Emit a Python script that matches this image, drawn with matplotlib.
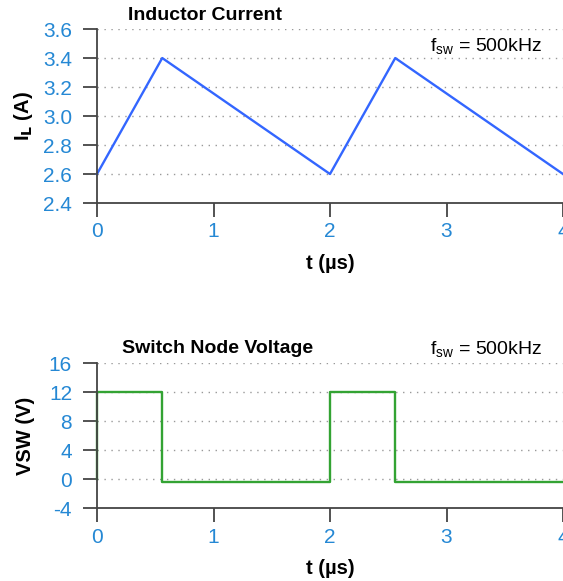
import matplotlib
matplotlib.use("Agg")
import matplotlib.pyplot as plt
import numpy as np

plt.rcParams["font.family"] = ["Liberation Sans", "DejaVu Sans"]

# données
t_il = [0, 0.56, 2.0, 2.56, 4.0]
il = [2.6, 3.4, 2.6, 3.4, 2.6]
il_ticks = [2.4, 2.6, 2.8, 3.0, 3.2, 3.4, 3.6]

t_vsw = [0, 0, 0.56, 0.56, 2.0, 2.0, 2.56, 2.56, 4.0]
vsw = [0, 12, 12, -0.3, -0.3, 12, 12, -0.3, -0.3]
vsw_ticks = [-4, 0, 4, 8, 12, 16]

t_ticks = [0, 1, 2, 3, 4]

tick_col = "#2588d4"
axis_col = "#444444"


def style_axes(ax, yticks, fmt):
    # axes façon R : ticks vers l'extérieur, grille pointillée
    for s in ["top", "right"]:
        ax.spines[s].set_visible(False)
    for s in ["left", "bottom"]:
        ax.spines[s].set_color(axis_col)
        ax.spines[s].set_linewidth(1.3)
    ax.set_xlim(0, 4)
    ax.set_ylim(yticks[0], yticks[-1])
    ax.set_xticks(t_ticks)
    ax.set_yticks(yticks)
    ax.set_yticklabels([fmt.format(v) for v in yticks])
    ax.tick_params(direction="out", length=10, width=1.3, color=axis_col,
                   labelcolor=tick_col, labelsize=15)
    ax.tick_params(axis="y", pad=8)
    ax.tick_params(axis="x", pad=4)
    for y in yticks[1:]:
        ax.axhline(y, color="#999999", lw=1, ls=(0, (1, 4)), zorder=0)
    ax.set_xlabel("t (\u00b5s)", fontsize=14.5, fontweight="bold", labelpad=9)


fig = plt.figure(figsize=(5.63, 5.81), dpi=100)

ax1 = fig.add_axes([0.1723, 0.6506, 0.8277, 0.2994])
ax1.plot(t_il, il, color="#3366ff", lw=1.7, clip_on=False)
style_axes(ax1, il_ticks, "{:.1f}")
ax1.set_ylabel("I$_\\mathbf{L}$ (A)", fontsize=14.5, fontweight="bold")
ax1.yaxis.set_label_coords(-0.133, 0.5)
fig.text(0.227, 0.973, "Inductor Current", fontsize=14, fontweight="bold", va="center")
ax1.text(0.955, 0.895, "f$_\\mathregular{sw}$ = 500kHz", transform=ax1.transAxes,
         fontsize=14, ha="right", va="center")

ax2 = fig.add_axes([0.1723, 0.1248, 0.8277, 0.2504])
ax2.plot(t_vsw, vsw, color="#33a333", lw=1.7, clip_on=False)
style_axes(ax2, vsw_ticks, "{:d}")
ax2.set_ylabel("VSW (V)", fontsize=14.5, fontweight="bold")
ax2.yaxis.set_label_coords(-0.133, 0.5)
fig.text(0.217, 0.400, "Switch Node Voltage", fontsize=14, fontweight="bold", va="center")
ax2.text(0.955, 1.09, "f$_\\mathregular{sw}$ = 500kHz", transform=ax2.transAxes,
         fontsize=14, ha="right", va="center")

fig.savefig("out.png", dpi=100)
